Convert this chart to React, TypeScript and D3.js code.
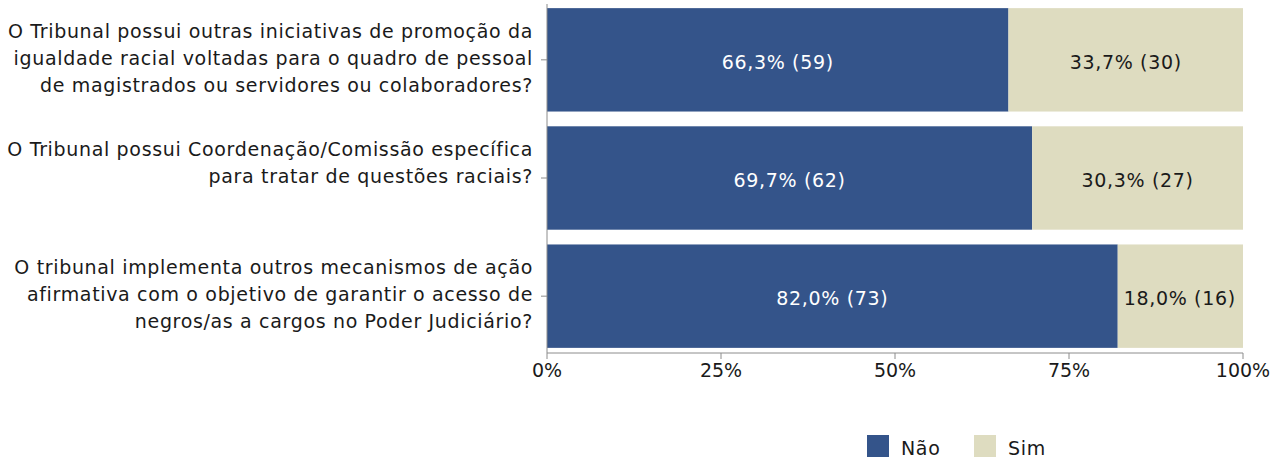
import React from "react";
import * as d3 from "d3";

const categories: string[][] = [
  [
    "O Tribunal possui outras iniciativas de promoção da",
    "igualdade racial voltadas para o quadro de pessoal",
    "de magistrados ou servidores ou colaboradores?",
  ],
  [
    "O Tribunal possui Coordenação/Comissão específica",
    "para tratar de questões raciais?",
  ],
  [
    "O tribunal implementa outros mecanismos de ação",
    "afirmativa com o objetivo de garantir o acesso de",
    "negros/as a cargos no Poder Judiciário?",
  ],
];
const naoPct = [66.3, 69.7, 82.0];
const naoCount = [59, 62, 73];
const simPct = [33.7, 30.3, 18.0];
const simCount = [30, 27, 16];
const seriesNames = ["Não", "Sim"];
const xTicks = [0, 25, 50, 75, 100];

const W = 1273;
const H = 458;
const FONT = "DejaVu Sans";
const FS = 19;
const LS = 0.66;
const NAO_COLOR = "#34548a";
const SIM_COLOR = "#dedcc0";
const AXIS_COLOR = "#8c8c8c";

const fmt = (v: number) => v.toFixed(1).replace(".", ",");

export default function App() {
  const x = d3.scaleLinear().domain([0, 100]).range([547, 1243]);
  const ids = categories.map((_, i) => String(i));
  const y = d3
    .scaleBand<string>()
    .domain(ids)
    .range([4, 352])
    .paddingInner(0.125)
    .paddingOuter(0.035);
  const axisY = 353;
  const bw = y.bandwidth();

  return (
    <svg width={W} height={H} style={{ position: "absolute", left: 0, top: 0 }}>
      {/* bars */}
      {ids.map((id, i) => {
        const y0 = y(id)!;
        const cy = y0 + bw / 2;
        const xa = x(0);
        const xb = x(naoPct[i]);
        const xc = x(naoPct[i] + simPct[i]);
        const simNarrow = simPct[i] < 20;
        return (
          <g key={id}>
            <rect x={xa} y={y0} width={xb - xa} height={bw} fill={NAO_COLOR} />
            <rect x={xb} y={y0} width={xc - xb} height={bw} fill={SIM_COLOR} />
            <text
              x={(xa + xb) / 2}
              y={cy + 9}
              textAnchor="middle"
              fill="#ffffff"
              fontFamily={FONT}
              fontSize={FS}
              letterSpacing={LS}
            >
              {`${fmt(naoPct[i])}% (${naoCount[i]})`}
            </text>
            <text
              x={simNarrow ? xb + 6 : (xb + xc) / 2}
              y={cy + 9}
              textAnchor={simNarrow ? "start" : "middle"}
              fill="#1a1a1a"
              fontFamily={FONT}
              fontSize={FS}
              letterSpacing={LS}
            >
              {`${fmt(simPct[i])}% (${simCount[i]})`}
            </text>
          </g>
        );
      })}

      {/* y axis */}
      <line x1={x(0)} x2={x(0)} y1={4} y2={axisY} stroke={AXIS_COLOR} strokeWidth={1} />
      {ids.map((id, i) => {
        const cy = y(id)! + bw / 2;
        const lines = categories[i];
        return (
          <g key={"yl" + id}>
            <line x1={x(0) - 6} x2={x(0)} y1={cy} y2={cy} stroke={AXIS_COLOR} strokeWidth={1} />
            {lines.map((ln, j) => (
              <text
                key={j}
                x={533}
                y={cy + (j - 1) * 27 + 5}
                textAnchor="end"
                fill="#1a1a1a"
                fontFamily={FONT}
                fontSize={FS}
                letterSpacing={LS}
              >
                {ln}
              </text>
            ))}
          </g>
        );
      })}

      {/* x axis */}
      <line x1={x(0)} x2={x(100)} y1={axisY} y2={axisY} stroke={AXIS_COLOR} strokeWidth={1} />
      {xTicks.map((t) => (
        <g key={"xt" + t}>
          <line x1={x(t)} x2={x(t)} y1={axisY} y2={axisY + 6} stroke={AXIS_COLOR} strokeWidth={1} />
          <text
            x={x(t)}
            y={377}
            textAnchor="middle"
            fill="#1a1a1a"
            fontFamily={FONT}
            fontSize={FS}
          >
            {`${t}%`}
          </text>
        </g>
      ))}

      {/* legend */}
      {seriesNames.map((name, i) => {
        const lx = [867, 974][i];
        return (
          <g key={"lg" + name}>
            <rect x={lx} y={435} width={22} height={22} fill={i === 0 ? NAO_COLOR : SIM_COLOR} />
            <text
              x={lx + 34}
              y={455}
              fill="#1a1a1a"
              fontFamily={FONT}
              fontSize={FS}
              letterSpacing={LS}
            >
              {name}
            </text>
          </g>
        );
      })}
    </svg>
  );
}
